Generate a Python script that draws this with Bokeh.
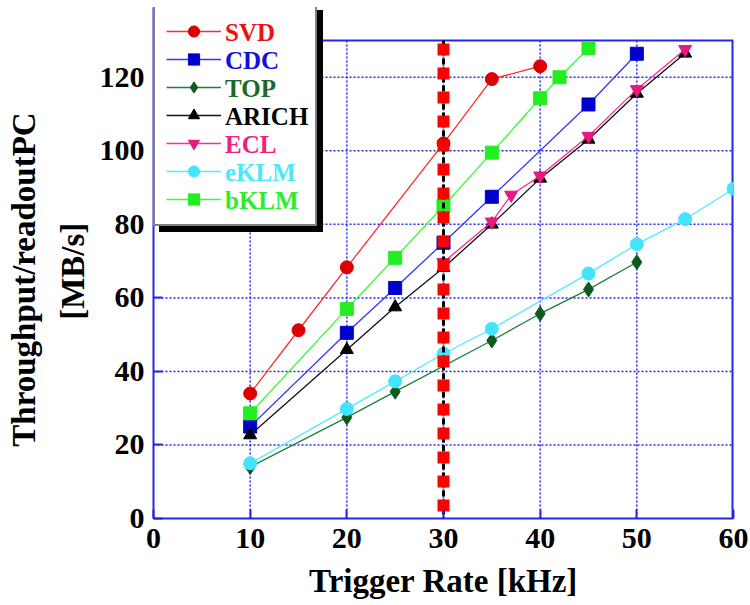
from bokeh.plotting import figure
from bokeh.models import Range1d, Legend, LegendItem, FixedTicker
from bokeh.embed import file_html
from bokeh.resources import INLINE

# ---- data ----
x_svd = [10, 15, 20, 30, 35, 40]
y_svd = [34.0, 51.2, 68.3, 102.0, 119.5, 123.0]
x_cdc = [10, 20, 25, 30, 35, 45, 50]
y_cdc = [25.0, 50.5, 62.7, 75.0, 87.5, 112.6, 126.4]
x_top = [10, 20, 25, 35, 40, 45, 50]
y_top = [14.0, 27.5, 34.5, 48.4, 55.7, 62.3, 69.7]
x_arich = [10, 20, 25, 30, 35, 40, 45, 50, 55]
y_arich = [22.7, 45.9, 57.5, 68.2, 80.0, 92.5, 103.1, 115.6, 126.5]
x_ecl = [30, 35, 37, 40, 45, 50, 55]
y_ecl = [69.7, 80.7, 88.0, 93.2, 104.0, 116.7, 127.6]
x_eklm = [10, 20, 25, 30, 35, 45, 50, 55, 60]
y_eklm = [15.0, 29.8, 37.3, 44.8, 51.6, 66.6, 74.6, 81.4, 89.7]
x_bklm = [10, 20, 25, 30, 35, 40, 42, 45]
y_bklm = [28.6, 57.0, 70.9, 85.0, 99.5, 114.3, 120.0, 127.9]
limit_rate = 30
x_ticks = [0, 10, 20, 30, 40, 50, 60]
y_ticks = [0, 20, 40, 60, 80, 100, 120]
X_MAX = 60
Y_MAX = 130

FONT = "Liberation Serif"
BLUE = "#2626E6"
NBSP = "\u00a0"

# geometry (page pixels)
LEFT, TOP_B, BOTTOM_B, RIGHT_B = 153, 7, 84, 17
PLOT_W, PLOT_H = 580, 478          # size of the 0..60 x 0..130 box
EXTRA_TOP = 40 - TOP_B             # room above the box for the legend
px_x = PLOT_W / X_MAX
px_y = PLOT_H / Y_MAX
Y_TOP = Y_MAX + EXTRA_TOP / px_y

p = figure(frame_width=PLOT_W, frame_height=PLOT_H + EXTRA_TOP,
           x_range=Range1d(0, X_MAX), y_range=Range1d(0, Y_TOP),
           output_backend="svg", toolbar_location=None,
           min_border_left=LEFT, min_border_right=RIGHT_B,
           min_border_top=TOP_B, min_border_bottom=BOTTOM_B)
p.background_fill_color = "white"
p.border_fill_color = "white"
p.outline_line_color = None
p.xgrid.visible = False
p.ygrid.visible = False

for ax in (p.xaxis[0], p.yaxis[0]):
    ax.axis_line_color = BLUE
    ax.axis_line_width = 2
    ax.major_tick_line_color = BLUE
    ax.major_tick_line_width = 2
    ax.major_tick_in = 9
    ax.major_tick_out = 0
    ax.minor_tick_line_color = None
    ax.major_label_text_font = FONT
    ax.major_label_text_font_style = "bold"
    ax.major_label_text_font_size = "30px"
    ax.major_label_text_color = "black"
    ax.axis_label_text_font = FONT
    ax.axis_label_text_font_style = "bold"
    ax.axis_label_text_color = "black"

p.xaxis.axis_label_text_font_size = "33px"
p.yaxis.axis_label_text_font_size = "33px"
p.yaxis.axis_label_text_line_height = 1.35
p.xaxis.ticker = FixedTicker(ticks=x_ticks)
p.yaxis.ticker = FixedTicker(ticks=y_ticks)
p.xaxis.axis_label = "Trigger Rate [kHz]"
# trailing no-break spaces centre the title on the 0..130 box rather than the taller frame
p.yaxis.axis_label = "Throughput/readoutPC" + NBSP * 4 + "\n[MB/s]" + NBSP * 2
p.xaxis.major_label_standoff = 10
p.yaxis.major_label_standoff = 9
p.xaxis.axis_label_standoff = 12
p.yaxis.axis_label_standoff = 6

# dotted grid inside the 0..130 box
gx = x_ticks[1:-1]
p.segment(x0=gx, y0=[0] * len(gx), x1=gx, y1=[Y_MAX] * len(gx),
          line_color=BLUE, line_width=1.5, line_dash="2 2")
gy = y_ticks[1:]
p.segment(x0=[0] * len(gy), y0=gy, x1=[X_MAX] * len(gy), y1=gy,
          line_color=BLUE, line_width=1.5, line_dash="2 2")
# box border (top and right)
p.line([0, X_MAX], [Y_MAX, Y_MAX], line_color=BLUE, line_width=2)
p.line([X_MAX, X_MAX], [0, Y_MAX], line_color=BLUE, line_width=4)

series = [
    ("SVD", x_svd, y_svd, "#FF2A2A", "#DD0000", "circle", 13, "#EE1111"),
    ("CDC", x_cdc, y_cdc, "#3434FF", "#0000CC", "square", 13, "#1010DD"),
    ("TOP", x_top, y_top, "#1F7F3A", "#0E5A1E", "diamond", 15, "#1A6A2A"),
    ("ARICH", x_arich, y_arich, "#111111", "#000000", "triangle", 13, "#000000"),
    ("ECL", x_ecl, y_ecl, "#FF2A95", "#E8187F", "inverted_triangle", 13, "#F0207F"),
    ("eKLM", x_eklm, y_eklm, "#55E8FF", "#44E4FF", "circle", 13, "#4EE6FF"),
    ("bKLM", x_bklm, y_bklm, "#33FF33", "#22EE22", "square", 13, "#2DEE2D"),
]

rends = []
for name, xs, ys, lc, mc, marker, sz, tc in series:
    r1 = p.line(xs, ys, line_color=lc, line_width=1.3)
    r2 = p.scatter(xs, ys, marker=marker, size=sz, fill_color=mc, line_color=mc)
    rends.append((r1, r2))

# limit line at 30 kHz
p.line([limit_rate, limit_rate], [Y_MAX, 0], line_color="black", line_width=3, line_dash="6 3")
p.line([limit_rate, limit_rate], [Y_MAX - 0.8, 0], line_color="#FF0000", line_width=12, line_dash="12 12")

# ---- legend: shadow box, white box with glyphs, then one coloured text legend per row ----
PAD, ROW, GW, LW = 11, 28, 55, 77
LEG_H = 2 * PAD + ROW * len(series)
LEG_TOP = 8 - TOP_B                      # px below frame top
leg_bottom = PLOT_H + EXTRA_TOP - LEG_TOP - LEG_H   # px above frame bottom

common = dict(padding=PAD, spacing=0, glyph_height=ROW, label_height=ROW,
              glyph_width=GW, label_standoff=6, label_width=LW, margin=0,
              label_text_font_size="18px",
              border_line_color="black", border_line_width=2)
box_items = [LegendItem(label=" ", renderers=list(r)) for r in rends]
shadow_items = [LegendItem(label=" ", renderers=list(r)) for r in rends]
p.add_layout(Legend(items=shadow_items, location=(6, leg_bottom - 6),
                    background_fill_color="black", background_fill_alpha=1.0, **common), "center")
p.add_layout(Legend(items=box_items, location=(0, leg_bottom),
                    background_fill_color="white", background_fill_alpha=1.0, **common), "center")

# invisible renderer so the text-only legends draw no second glyph
ghost = p.line(x=[], y=[], line_alpha=0.0)
for i, s in enumerate(series):
    name, tc = s[0], s[7]
    row_bottom = leg_bottom + LEG_H - PAD - ROW * (i + 1) - PAD
    lg = Legend(items=[LegendItem(label=name, renderers=[ghost])],
                location=(0, row_bottom), padding=PAD, spacing=0,
                glyph_height=ROW, label_height=ROW, glyph_width=GW,
                label_standoff=6, label_width=LW, margin=0,
                label_text_font=FONT, label_text_font_style="bold",
                label_text_font_size="25px", label_text_color=tc,
                background_fill_alpha=0.0,
                border_line_color="black", border_line_width=2, border_line_alpha=0.0)
    p.add_layout(lg, "center")

open("out.html", "w").write(file_html(p, INLINE))
